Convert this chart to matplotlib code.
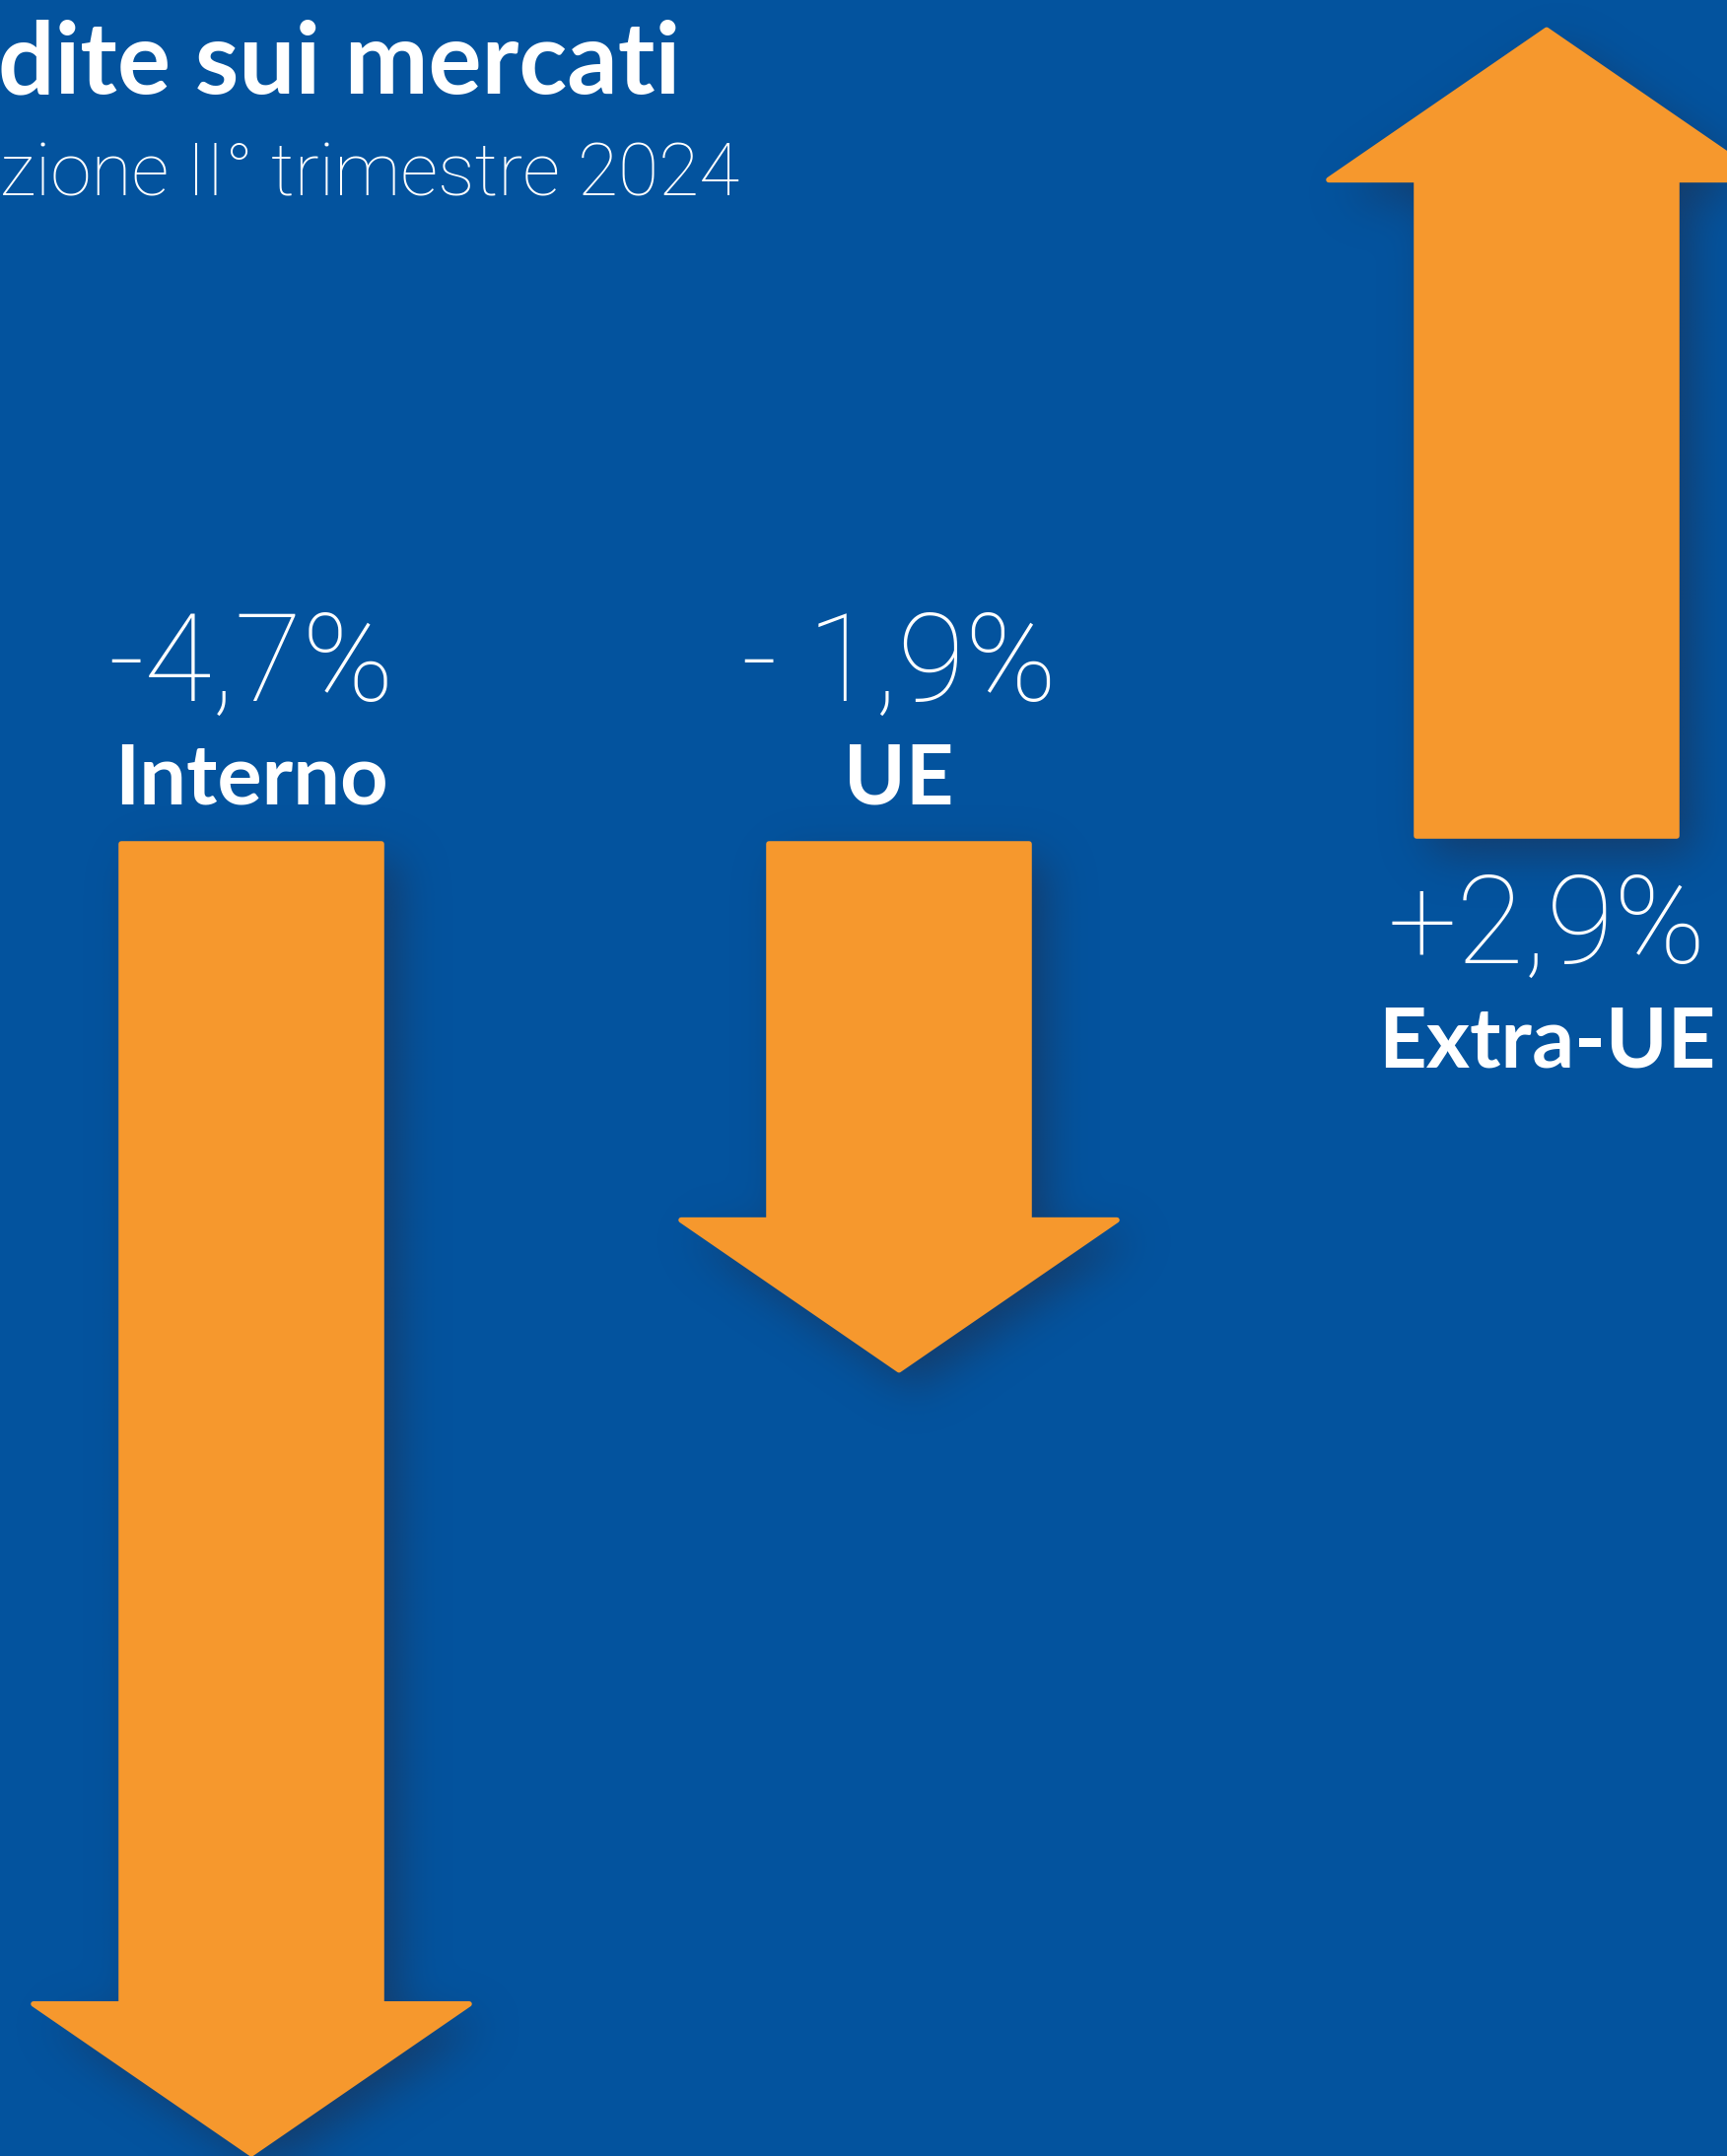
import numpy as np
import matplotlib
matplotlib.use("Agg")
import matplotlib.pyplot as plt
from matplotlib.path import Path
from matplotlib.patches import PathPatch
from matplotlib.transforms import offset_copy

# data
categories = ["Interno", "UE", "Extra-UE"]
values = [-4.7, -1.9, 2.9]
value_labels = ["-4,7%", "- 1,9%", "+2,9%"]
title = "dite sui mercati"
subtitle = "zione II° trimestre 2024"

BG = "#03539E"
ORANGE = "#F6982D"
SHADOW = "#163a66"
W, H = 1752, 2187
PX_PER_CAT = 657.0
PX_PER_PCT = 284.0
BASE_PX = 852.0  # y pixel (from top) of the zero line
FIRST_PX = 255.0

xlim = (-FIRST_PX / PX_PER_CAT, (W - FIRST_PX) / PX_PER_CAT)
ylim = ((BASE_PX - H) / PX_PER_PCT, BASE_PX / PX_PER_PCT)

shaft_hw = 132 / PX_PER_CAT
head_hw = 221 / PX_PER_CAT
head_len = 154 / PX_PER_PCT
gap = 4 / PX_PER_PCT  # small gap between zero line and the arrow base


def arrow_verts(x, v):
    s = np.sign(v)
    sh = v - s * head_len
    tip = v - s * 2 / PX_PER_PCT
    b = s * gap
    return [(x - shaft_hw, b), (x - shaft_hw, sh), (x - head_hw, sh), (x, tip),
            (x + head_hw, sh), (x + shaft_hw, sh), (x + shaft_hw, b), (x - shaft_hw, b)]


def blur(a, sigma):
    r = int(3 * sigma)
    k = np.exp(-0.5 * (np.arange(-r, r + 1) / sigma) ** 2)
    k /= k.sum()
    a = np.apply_along_axis(lambda m: np.convolve(m, k, mode="same"), 0, a)
    a = np.apply_along_axis(lambda m: np.convolve(m, k, mode="same"), 1, a)
    return a


fig = plt.figure(figsize=(W / 100, H / 100), dpi=100, facecolor=BG)
ax = fig.add_axes([0, 0, 1, 1])
ax.set_facecolor(BG)
ax.set_xlim(*xlim)
ax.set_ylim(*ylim)
ax.axis("off")

# soft drop shadow, rasterised at quarter resolution
step = 4
gx = np.linspace(xlim[0], xlim[1], W // step)
gy = np.linspace(ylim[0], ylim[1], H // step)
XX, YY = np.meshgrid(gx, gy)
pts = np.column_stack([XX.ravel(), YY.ravel()])
mask = np.zeros(XX.shape)
dx, dy = 16 / PX_PER_CAT, -18 / PX_PER_PCT
for i, v in enumerate(values):
    verts = [(px + dx, py + dy) for px, py in arrow_verts(i, v)]
    mask += Path(verts).contains_points(pts).reshape(XX.shape)
mask = blur(np.clip(mask, 0, 1), 5.5)
rgba = np.zeros(mask.shape + (4,))
rgba[..., :3] = matplotlib.colors.to_rgb(SHADOW)
rgba[..., 3] = mask * 0.9
ax.imshow(rgba, extent=(*xlim, *ylim), origin="lower", aspect="auto",
          interpolation="bilinear", zorder=1)

for i, v in enumerate(values):
    p = PathPatch(Path(arrow_verts(i, v), closed=True), facecolor=ORANGE,
                  edgecolor=ORANGE, lw=4, joinstyle="round", zorder=2)
    ax.add_patch(p)

num_font = dict(family=["Roboto", "DejaVu Sans"], fontweight="light", color="white")
lab_font = dict(family=["Lato", "DejaVu Sans"], fontweight="bold", color="white")
for i, (v, cat, lab) in enumerate(zip(values, categories, value_labels)):
    if v < 0:
        off_num, off_cat = 141, 36
    else:
        off_num, off_cat = -125, -231
    ax.text(i, 0, lab, ha="center", va="baseline", fontsize=90, zorder=3,
            transform=offset_copy(ax.transData, fig, y=off_num, units="dots"), **num_font)
    ax.text(i, 0, cat, ha="center", va="baseline", fontsize=61, zorder=3,
            transform=offset_copy(ax.transData, fig, y=off_cat, units="dots"), **lab_font)

fig.text(-2 / W, 1 - 94 / H, title, ha="left", va="baseline", fontsize=73, **lab_font)
fig.text(0, 1 - 199 / H, subtitle, ha="left", va="baseline", fontsize=54, **num_font)

fig.savefig("out.png", dpi=100, facecolor=BG)
